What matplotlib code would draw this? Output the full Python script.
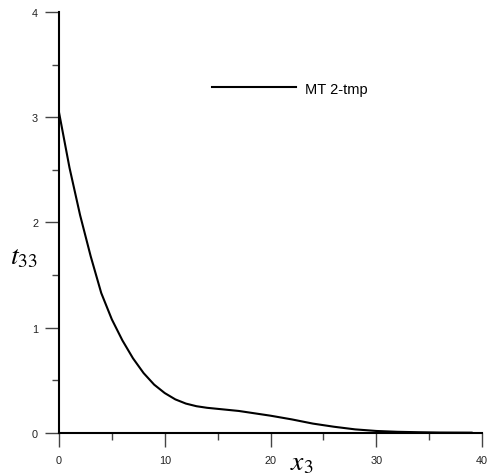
import matplotlib
matplotlib.use("Agg")
import matplotlib.pyplot as plt
from matplotlib.ticker import MultipleLocator

plt.rcParams['font.family'] = ['Liberation Sans', 'DejaVu Sans']
plt.rcParams['mathtext.fontset'] = 'stix'

# curve
x3 = [0, 1, 2, 3, 4, 5, 6, 7, 8, 9, 10, 11, 12, 13, 14, 15, 16, 17, 18, 19,
      20, 22, 24, 26, 28, 30, 32, 34, 36, 39]
t33 = [3.05, 2.52, 2.07, 1.68, 1.33, 1.08, 0.88, 0.71, 0.57, 0.46, 0.38, 0.32,
       0.28, 0.255, 0.24, 0.23, 0.22, 0.21, 0.195, 0.18, 0.165, 0.13, 0.09,
       0.06, 0.035, 0.02, 0.012, 0.008, 0.005, 0.004]
series_name = "MT 2-tmp"

fig = plt.figure(figsize=(4.91, 4.77), dpi=100)
ax = fig.add_axes([0.120, 0.090, 0.862, 0.883])

ax.plot(x3, t33, color='black', lw=1.5, label=series_name)

ax.set_xlim(0, 40)
ax.set_ylim(0, 4)
ax.xaxis.set_major_locator(MultipleLocator(10))
ax.xaxis.set_minor_locator(MultipleLocator(5))
ax.yaxis.set_major_locator(MultipleLocator(1))
ax.yaxis.set_minor_locator(MultipleLocator(0.5))

for s in ['top', 'right']:
    ax.spines[s].set_visible(False)
for s in ['left', 'bottom']:
    ax.spines[s].set_linewidth(1.5)

ax.tick_params(axis='both', which='both', direction='out', color='#444',
               labelsize=7.8, labelcolor='#222')
ax.tick_params(axis='y', which='major', length=10, width=1, pad=5)
ax.tick_params(axis='y', which='minor', length=5, width=1)
ax.tick_params(axis='x', which='major', length=10, width=1, pad=6)
ax.tick_params(axis='x', which='minor', length=5, width=1)

# axis titles (big italic serif, sit inside the tick label area like the original)
ax.text(-0.116, 0.404, r'$t_{33}$', transform=ax.transAxes, fontsize=20,
        ha='left', va='baseline')
ax.text(0.574, -0.086, r'$x_{3}$', transform=ax.transAxes, fontsize=20,
        ha='center', va='baseline')

ax.legend(loc='center left', bbox_to_anchor=(0.33, 0.818), frameon=False,
          fontsize=10.5, handlelength=5.8, handletextpad=0.62)

fig.savefig('out.png', dpi=100)
